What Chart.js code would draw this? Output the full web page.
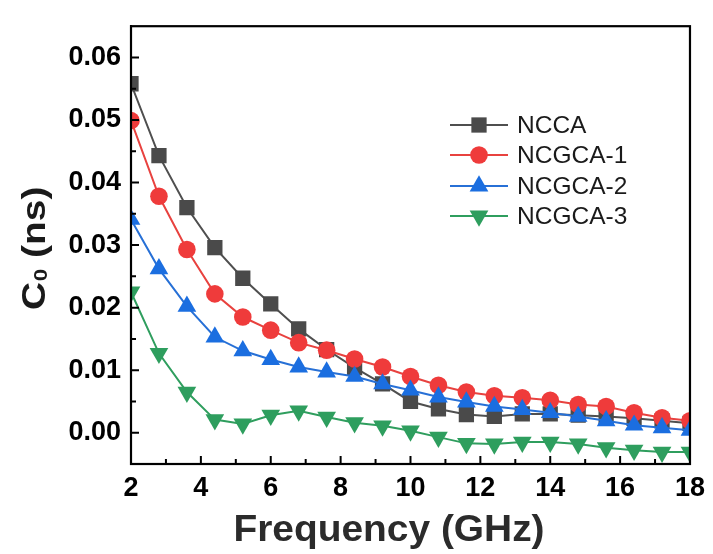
<!DOCTYPE html>
<html><head><meta charset="utf-8">
<script src="https://cdn.jsdelivr.net/npm/chart.js@4/dist/chart.umd.min.js"></script>
<style>html,body{margin:0;padding:0;background:#fff;}#wrap{width:713px;height:554px;}</style>
</head><body><div id="wrap"><canvas id="c" width="713" height="554"></canvas></div>
<script>
// ---- data ----
const frequency = [2, 2.8, 3.6, 4.4, 5.2, 6.0, 6.8, 7.6, 8.4, 9.2, 10, 10.8, 11.6, 12.4, 13.2, 14, 14.8, 15.6, 16.4, 17.2, 18];
const ncca   = [0.0558, 0.0443, 0.0360, 0.0296, 0.0247, 0.0206, 0.0166, 0.0133, 0.0104, 0.0078, 0.0050, 0.0038, 0.0029, 0.0026, 0.0030, 0.0030, 0.0028, 0.0026, 0.0023, 0.0019, 0.0015];
const ncgca1 = [0.0499, 0.0378, 0.0293, 0.0222, 0.0185, 0.0164, 0.0144, 0.0132, 0.0118, 0.0105, 0.0090, 0.0076, 0.0065, 0.0059, 0.0056, 0.0052, 0.0045, 0.0042, 0.0032, 0.0024, 0.0019];
const ncgca2 = [0.0341, 0.0262, 0.0202, 0.0153, 0.0131, 0.0117, 0.0105, 0.0097, 0.0090, 0.0078, 0.0068, 0.0057, 0.0049, 0.0042, 0.0037, 0.0032, 0.0026, 0.0019, 0.0012, 0.0008, 0.0004];
const ncgca3 = [0.0225, 0.0127, 0.0065, 0.0021, 0.0014, 0.0028, 0.0035, 0.0025, 0.0016, 0.0011, 0.0003, -0.0007, -0.0017, -0.0018, -0.0015, -0.0015, -0.0018, -0.0024, -0.0028, -0.0031, -0.0031];
const seriesNames = ['NCCA', 'NCGCA-1', 'NCGCA-2', 'NCGCA-3'];
const xTickValues = [2, 4, 6, 8, 10, 12, 14, 16, 18];
const xMinorValues = [3, 5, 7, 9, 11, 13, 15, 17];
const yTickValues = [0.00, 0.01, 0.02, 0.03, 0.04, 0.05, 0.06];
const yMinorValues = [0.005, 0.015, 0.025, 0.035, 0.045, 0.055];

const styles = [
  {line:'#4f4f4f', fill:'#4a4a4a', pointStyle:'rect', radius:10.8, rotation:0},
  {line:'#e8423f', fill:'#ef3b3b', pointStyle:'circle', radius:8.8, rotation:0},
  {line:'#2770d6', fill:'#1b6ee0', pointStyle:'triangle', radius:10.8, rotation:0},
  {line:'#2f9e5e', fill:'#2e9e5e', pointStyle:'triangle', radius:10.8, rotation:180}
];
const seriesData = [ncca, ncgca1, ncgca2, ncgca3];

const datasets = seriesData.map((vals, i) => ({
  label: seriesNames[i],
  data: frequency.map((f, k) => ({x: f, y: vals[k]})),
  borderColor: styles[i].line,
  backgroundColor: styles[i].fill,
  pointBackgroundColor: styles[i].fill,
  pointBorderColor: styles[i].fill,
  pointBorderWidth: 0,
  pointStyle: styles[i].pointStyle,
  pointRadius: styles[i].radius,
  pointRotation: styles[i].rotation,
  borderWidth: 2,
  tension: 0,
  clip: 0,
  order: 4 - i
}));

const FONT = '"Liberation Sans", Arial, sans-serif';

const framePlugin = {
  id: 'frame',
  afterDraw(chart) {
    const {ctx, chartArea: a, scales: {x, y}} = chart;
    ctx.save();
    ctx.strokeStyle = '#000';
    ctx.lineWidth = 2;
    ctx.beginPath();
    xTickValues.forEach(v => { const p = x.getPixelForValue(v); ctx.moveTo(p, a.bottom); ctx.lineTo(p, a.bottom - 8); });
    xMinorValues.forEach(v => { const p = x.getPixelForValue(v); ctx.moveTo(p, a.bottom); ctx.lineTo(p, a.bottom - 5); });
    yTickValues.forEach(v => { const p = y.getPixelForValue(v); ctx.moveTo(a.left, p); ctx.lineTo(a.left + 8, p); });
    yMinorValues.forEach(v => { const p = y.getPixelForValue(v); ctx.moveTo(a.left, p); ctx.lineTo(a.left + 5, p); });
    ctx.stroke();
    ctx.lineWidth = 2.2;
    ctx.strokeRect(a.left, a.top, a.right - a.left, a.bottom - a.top);
    ctx.restore();

    // x title
    ctx.save();
    ctx.fillStyle = '#2b2b2b';
    ctx.font = 'bold 36px ' + FONT;
    ctx.textAlign = 'center';
    ctx.textBaseline = 'alphabetic';
    ctx.translate(389, 541);
    ctx.scale(1.08, 1);
    ctx.fillText('Frequency (GHz)', 0, 0);
    ctx.restore();

    // y title  C0 (ns)
    ctx.save();
    ctx.fillStyle = '#1a1a1a';
    ctx.translate(45, 310);
    ctx.rotate(-Math.PI / 2);
    ctx.scale(1.18, 1);
    ctx.textAlign = 'left';
    ctx.textBaseline = 'alphabetic';
    ctx.font = 'bold 33px ' + FONT;
    ctx.fillText('C', 0, 0);
    let w = ctx.measureText('C').width;
    ctx.font = 'bold 19px ' + FONT;
    ctx.fillText('0', w + 0.5, 2);
    w += ctx.measureText('0').width + 0.5;
    ctx.font = 'bold 33px ' + FONT;
    ctx.fillText(' (ns)', w, 0);
    ctx.restore();

    // legend
    const rows = [125, 155, 186, 216];
    ctx.save();
    rows.forEach((ry, i) => {
      const st = styles[i];
      ctx.strokeStyle = st.line;
      ctx.lineWidth = 2;
      ctx.beginPath(); ctx.moveTo(450, ry); ctx.lineTo(508, ry); ctx.stroke();
      ctx.fillStyle = st.fill;
      ctx.strokeStyle = st.fill;
      Chart.helpers.drawPoint(ctx, {pointStyle: st.pointStyle, rotation: st.rotation, radius: st.radius, borderWidth: 0}, 479, ry);
      ctx.fillStyle = '#1a1a1a';
      ctx.font = '24.5px ' + FONT;
      ctx.textAlign = 'left';
      ctx.textBaseline = 'middle';
      ctx.fillText(seriesNames[i], 517, ry + 1);
    });
    ctx.restore();
  }
};

new Chart(document.getElementById('c'), {
  type: 'line',
  data: {datasets},
  options: {
    responsive: false,
    animation: false,
    devicePixelRatio: 1,
    layout: {padding: {top: 12, right: 21, left: 0, bottom: 0}},
    plugins: {legend: {display: false}, tooltip: {enabled: false}},
    scales: {
      x: {
        type: 'linear', min: 2, max: 18,
        afterBuildTicks: s => { s.ticks = xTickValues.map(v => ({value: v})); },
        afterFit: s => { s.height = 90; },
        grid: {display: false, drawTicks: false},
        border: {display: true, color: '#000', width: 2},
        ticks: {color: '#000', font: {family: FONT, size: 27, weight: 'bold'}, padding: 8, maxRotation: 0,
                callback: v => String(v)}
      },
      y: {
        type: 'linear', min: -0.005, max: 0.065,
        afterBuildTicks: s => { s.ticks = yTickValues.map(v => ({value: v})); },
        afterFit: s => { s.width = 131; },
        grid: {display: false, drawTicks: false},
        border: {display: true, color: '#000', width: 2},
        ticks: {color: '#000', font: {family: FONT, size: 27, weight: 'bold'}, padding: 10,
                callback: v => Number(v).toFixed(2)}
      }
    }
  },
  plugins: [framePlugin]
});
</script></body></html>
